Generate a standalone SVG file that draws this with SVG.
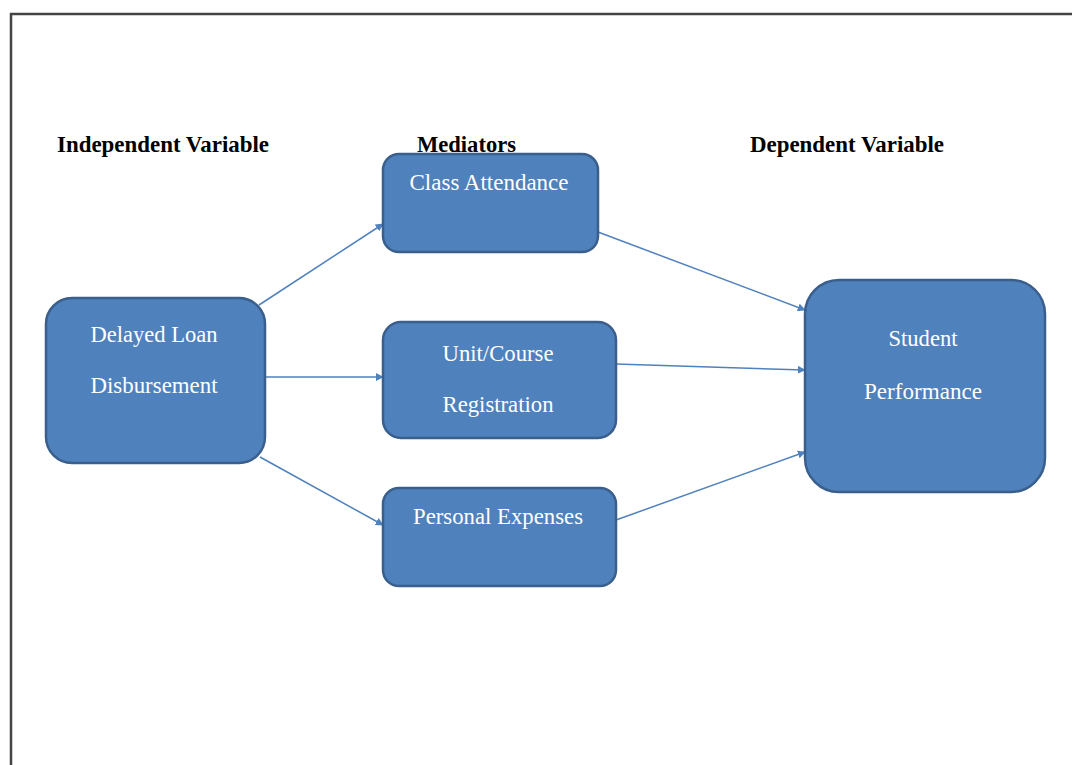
<svg xmlns="http://www.w3.org/2000/svg" width="1072" height="765" viewBox="0 0 1072 765">
<style>
.node{fill:#4F81BD;stroke:#3A5F8C;stroke-width:2.5}
.lbl{font-family:"Liberation Serif",serif;font-size:22.5px;fill:#FFFFFF;text-anchor:middle}
.head{font-family:"Liberation Serif",serif;font-size:22.5px;font-weight:bold;fill:#000000}
.edge{stroke:#4F81BD;stroke-width:1.5;fill:none;marker-end:url(#arr)}
</style>
<defs>
<marker id="arr" viewBox="0 0 10 10" refX="9" refY="5" markerWidth="8" markerHeight="8" orient="auto" markerUnits="userSpaceOnUse">
<path d="M0,0 L10,5 L0,10 z" fill="#4F81BD"/>
</marker>
</defs>
<rect x="0" y="0" width="1072" height="765" fill="#FFFFFF"/>
<path d="M11,765 L11,14 L1072,14" fill="none" stroke="#444444" stroke-width="2.5"/>
<g id="headings">
<text class="head" x="57" y="152" textLength="212" lengthAdjust="spacingAndGlyphs">Independent Variable</text>
<text class="head" x="417" y="152" textLength="99" lengthAdjust="spacingAndGlyphs">Mediators</text>
<text class="head" x="750" y="152" textLength="194" lengthAdjust="spacingAndGlyphs">Dependent Variable</text>
</g>
<g id="connectors">
<line class="edge" x1="259" y1="305" x2="383" y2="224"/>
<line class="edge" x1="265" y1="377" x2="383" y2="377"/>
<line class="edge" x1="260" y1="457" x2="383" y2="525"/>
<line class="edge" x1="598" y1="232" x2="805" y2="310"/>
<line class="edge" x1="616" y1="364" x2="805" y2="370"/>
<line class="edge" x1="616" y1="520" x2="805" y2="452"/>
</g>
<g id="delayed">
<rect class="node" x="46" y="298" width="219" height="165" rx="26"/>
<text class="lbl" x="154" y="342" textLength="127" lengthAdjust="spacingAndGlyphs">Delayed Loan</text>
<text class="lbl" x="154" y="393" textLength="127" lengthAdjust="spacingAndGlyphs">Disbursement</text>
</g>
<g id="class">
<rect class="node" x="383" y="154" width="215" height="98" rx="16"/>
<text class="lbl" x="489" y="190" textLength="159" lengthAdjust="spacingAndGlyphs">Class Attendance</text>
</g>
<g id="unit">
<rect class="node" x="383" y="322" width="233" height="116" rx="18"/>
<text class="lbl" x="498" y="361" textLength="111" lengthAdjust="spacingAndGlyphs">Unit/Course</text>
<text class="lbl" x="498" y="412" textLength="111" lengthAdjust="spacingAndGlyphs">Registration</text>
</g>
<g id="personal">
<rect class="node" x="383" y="488" width="233" height="98" rx="16"/>
<text class="lbl" x="498" y="524" textLength="170" lengthAdjust="spacingAndGlyphs">Personal Expenses</text>
</g>
<g id="student">
<rect class="node" x="805" y="280" width="240" height="212" rx="34"/>
<text class="lbl" x="923" y="346" textLength="69" lengthAdjust="spacingAndGlyphs">Student</text>
<text class="lbl" x="923" y="399" textLength="118" lengthAdjust="spacingAndGlyphs">Performance</text>
</g>
</svg>
